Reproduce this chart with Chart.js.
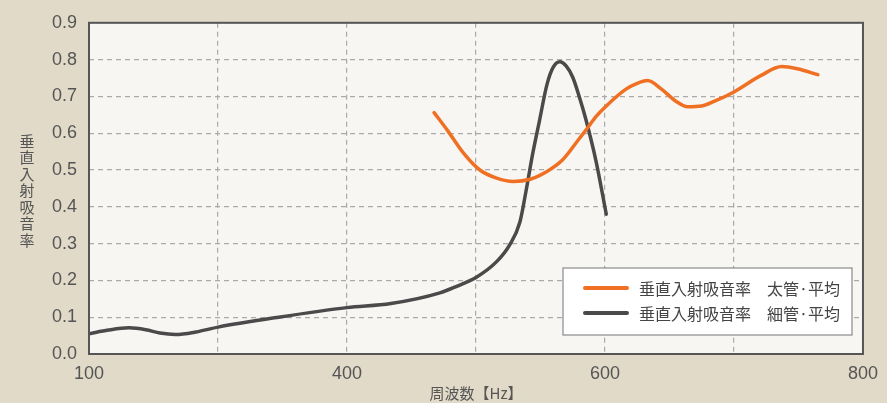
<!DOCTYPE html>
<html>
<head>
<meta charset="utf-8">
<script src="https://cdn.jsdelivr.net/npm/chart.js@4.4.1/dist/chart.umd.min.js"></script>
<style>
  html, body { margin: 0; padding: 0; background: #e1dac8; }
  #wrap { width: 887px; height: 403px; position: relative; }
</style>
</head>
<body>
<div id="wrap"><canvas id="c"></canvas></div>
<script>
'use strict';

// x values are positions on the printed axis grid (0..6), labelled below
const xTickLabels = ['100', '', '400', '', '600', '', '800'];
const yTitle = '垂直入射吸音率';
const xTitle = '周波数【Hz】';

const thickLabel = '垂直入射吸音率　太管·平均';
const thickX = [2.675, 2.78, 2.905, 3.03, 3.16, 3.29, 3.42, 3.55, 3.67, 3.80, 3.86, 3.93, 4.01, 4.16, 4.24, 4.33, 4.44, 4.55, 4.64, 4.75, 4.85, 5.0, 5.21, 5.37, 5.49, 5.65];
const thickY = [0.656, 0.607, 0.545, 0.500, 0.478, 0.469, 0.475, 0.496, 0.527, 0.585, 0.612, 0.645, 0.674, 0.719, 0.734, 0.743, 0.719, 0.687, 0.672, 0.674, 0.687, 0.712, 0.757, 0.781, 0.775, 0.759];

const thinLabel = '垂直入射吸音率　細管·平均';
const thinX = [0, 0.15, 0.31, 0.44, 0.55, 0.67, 0.83, 1.0, 1.47, 2.0, 2.34, 2.72, 2.85, 3.0, 3.16, 3.26, 3.34, 3.39, 3.44, 3.49, 3.55, 3.60, 3.65, 3.70, 3.75, 3.80, 3.85, 3.93, 4.01];
const thinY = [0.055, 0.065, 0.071, 0.066, 0.057, 0.053, 0.060, 0.073, 0.100, 0.126, 0.137, 0.166, 0.184, 0.208, 0.251, 0.296, 0.358, 0.447, 0.545, 0.630, 0.732, 0.780, 0.794, 0.782, 0.752, 0.700, 0.640, 0.525, 0.380];

const ORANGE = '#f07023';
const DARK = '#4a4a4a';
const TEXT = '#555555';
const GRID = '#aaaaaa';
const NUM_FONT = '"Liberation Sans", Arial, Helvetica, sans-serif';
const JP_FONT = '"Noto Sans CJK JP", "Noto Sans", sans-serif';

const toPoints = (xs, ys) => xs.map((x, i) => ({ x, y: ys[i] }));

const frame = {
  id: 'frame',
  beforeDraw(chart) {
    const { ctx, chartArea: a } = chart;
    ctx.save();
    ctx.fillStyle = '#f7f6f2';
    ctx.fillRect(a.left, a.top, a.right - a.left, a.bottom - a.top);
    ctx.restore();
  },
  afterDatasetsDraw(chart) {
    const { ctx, chartArea: a } = chart;
    ctx.save();
    ctx.strokeStyle = '#555555';
    ctx.lineWidth = 2;
    ctx.strokeRect(a.left, a.top, a.right - a.left, a.bottom - a.top);

    // vertical y-axis title, one character per line
    ctx.fillStyle = TEXT;
    ctx.font = `15px ${JP_FONT}`;
    ctx.textAlign = 'center';
    ctx.textBaseline = 'middle';
    [...yTitle].forEach((ch, i) => ctx.fillText(ch, 27, 141 + i * 16.5));

    // legend box inside plot
    const bx = 563, by = 268, bw = 289, bh = 67;
    ctx.fillStyle = '#ffffff';
    ctx.fillRect(bx, by, bw, bh);
    ctx.strokeStyle = '#8a8a8a';
    ctx.lineWidth = 1.2;
    ctx.strokeRect(bx, by, bw, bh);
    ctx.font = `16px ${JP_FONT}`;
    ctx.textAlign = 'left';
    chart.data.datasets.forEach((ds, i) => {
      const y = by + 20 + i * 25;
      ctx.strokeStyle = ds.borderColor;
      ctx.lineWidth = 4;
      ctx.lineCap = 'round';
      ctx.beginPath();
      ctx.moveTo(bx + 22, y);
      ctx.lineTo(bx + 64, y);
      ctx.stroke();
      ctx.fillStyle = '#444444';
      ctx.fillText(ds.label, bx + 76, y + 1);
    });
    ctx.restore();
  }
};

new Chart(document.getElementById('c'), {
  type: 'line',
  data: {
    datasets: [
      { label: thickLabel, data: toPoints(thickX, thickY), borderColor: ORANGE, borderWidth: 3.5, pointRadius: 0, cubicInterpolationMode: 'monotone', fill: false, borderCapStyle: 'round', borderJoinStyle: 'round' },
      { label: thinLabel, data: toPoints(thinX, thinY), borderColor: DARK, borderWidth: 3.5, pointRadius: 0, cubicInterpolationMode: 'monotone', fill: false, borderCapStyle: 'round', borderJoinStyle: 'round' }
    ]
  },
  options: {
    responsive: true,
    maintainAspectRatio: false,
    animation: false,
    layout: { padding: { left: 0, top: 17, right: 18, bottom: 0 } },
    scales: {
      x: {
        type: 'linear',
        min: 0,
        max: 6,
        afterFit: (s) => { s.height = 49; },
        border: { display: false, dash: [5, 4] },
        grid: { color: GRID, lineWidth: 1.2, drawTicks: false },
        ticks: {
          stepSize: 1,
          autoSkip: false,
          maxRotation: 0,
          padding: 9,
          color: TEXT,
          font: { family: NUM_FONT, size: 18 },
          callback: (v) => xTickLabels[v] ?? ''
        },
        title: {
          display: true,
          text: xTitle,
          color: TEXT,
          font: { family: JP_FONT, size: 15 },
          padding: { top: 0, bottom: 1 }
        }
      },
      y: {
        min: 0,
        max: 0.9,
        afterFit: (s) => { s.width = 89; },
        border: { display: false, dash: [5, 4] },
        grid: { color: GRID, lineWidth: 1.2, drawTicks: false },
        ticks: {
          stepSize: 0.1,
          padding: 12,
          color: TEXT,
          font: { family: NUM_FONT, size: 18 },
          callback: (v) => v.toFixed(1)
        }
      }
    },
    plugins: {
      legend: { display: false },
      tooltip: { enabled: false }
    }
  },
  plugins: [frame]
});
</script>
</body>
</html>
